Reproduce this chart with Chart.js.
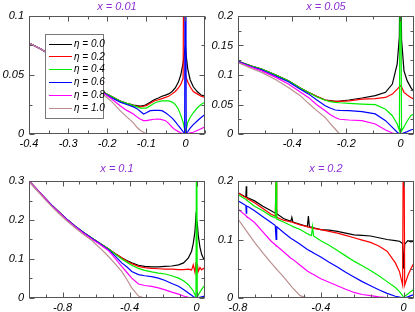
<!DOCTYPE html>
<html>
<head>
<meta charset="utf-8">
<script src="https://cdn.jsdelivr.net/npm/chart.js@4"></script>
<style>
  body { margin: 0; background: #fff; }
  #wrap { position: relative; width: 415px; height: 312px; }
  canvas { position: absolute; }
</style>
</head>
<body>
<div id="wrap">
  <canvas id="c1" width="207" height="156" style="left:0;top:0"></canvas>
  <canvas id="c2" width="208" height="156" style="left:207px;top:0"></canvas>
  <canvas id="c3" width="207" height="156" style="left:0;top:156px"></canvas>
  <canvas id="c4" width="208" height="156" style="left:207px;top:156px"></canvas>
</div>
<script>
// series labels
const etaLabels = ['η = 0.0', 'η = 0.2', 'η = 0.4', 'η = 0.6', 'η = 0.8', 'η = 1.0'];
const panelTitles = ['x = 0.01', 'x = 0.05', 'x = 0.1', 'x = 0.2'];

// x = 0.01
const p1X = [-0.4, -0.37, -0.34, -0.3, -0.26, -0.22, -0.19, -0.167, -0.15, -0.133, -0.124, -0.115, -0.107, -0.1, -0.09, -0.08, -0.069, -0.06, -0.051, -0.043, -0.034, -0.026, -0.018, -0.012, -0.006, -0.002, 0, 0.002, 0.006, 0.012, 0.02, 0.03, 0.04, 0.05];
const p1Eta00 = [0.077, 0.072, 0.066, 0.057, 0.047, 0.037, 0.032, 0.028, 0.026, 0.0245, 0.024, 0.0237, 0.024, 0.025, 0.027, 0.029, 0.0305, 0.032, 0.033, 0.034, 0.036, 0.039, 0.044, 0.05, 0.06, 0.07, 0.075, 0.066, 0.055, 0.046, 0.04, 0.036, 0.033, 0.032];
const p1Eta02 = [0.077, 0.072, 0.066, 0.057, 0.047, 0.037, 0.032, 0.028, 0.026, 0.0243, 0.0235, 0.023, 0.0235, 0.024, 0.026, 0.028, 0.029, 0.03, 0.031, 0.032, 0.034, 0.036, 0.039, 0.042, 0.047, 0.3, 0.05, 0.048, 0.044, 0.04, 0.036, 0.034, 0.032, 0.031];
const p1Eta04 = [0.077, 0.072, 0.066, 0.057, 0.047, 0.037, 0.032, 0.028, 0.026, 0.024, 0.023, 0.022, 0.022, 0.022, 0.024, 0.026, 0.0275, 0.028, 0.028, 0.028, 0.027, 0.025, 0.021, 0.016, 0.01, 0.004, 0, 0.004, 0.01, 0.014, 0.018, 0.022, 0.025, 0.027];
const p1Eta06 = [0.077, 0.072, 0.066, 0.057, 0.047, 0.037, 0.031, 0.027, 0.025, 0.023, 0.0215, 0.019, 0.017, 0.018, 0.0198, 0.02, 0.02, 0.0198, 0.018, 0.016, 0.0135, 0.0105, 0.007, 0.0045, 0.002, 0.0005, 0.3, 0.0005, 0.002, 0.005, 0.008, 0.011, 0.014, 0.0165];
const p1Eta08 = [0.077, 0.072, 0.066, 0.057, 0.047, 0.037, 0.03, 0.024, 0.02, 0.017, 0.0145, 0.0125, 0.0113, 0.0113, 0.012, 0.0125, 0.0127, 0.0122, 0.0113, 0.009, 0.0057, 0.0035, 0.002, 0.001, 0.0003, 0, 0, 0, 0.0003, 0.001, 0.0015, 0.003, 0.0045, 0.006];
const p1Eta10 = [0.077, 0.072, 0.066, 0.057, 0.047, 0.036, 0.028, 0.0198, 0.0145, 0.0095, 0.0057, 0.003, 0.0015, 0, 0, 0, 0, 0, 0, 0, 0, 0, 0, 0, 0, 0, 0, 0, 0, 0, 0, 0, 0, 0];

// x = 0.05
const p2X = [-0.6, -0.55, -0.513, -0.46, -0.414, -0.37, -0.34, -0.31, -0.278, -0.26, -0.241, -0.225, -0.19, -0.142, -0.093, -0.055, -0.03, -0.012, -0.004, 0, 0.004, 0.013, 0.025, 0.038, 0.05];
const p2Eta00 = [0.123, 0.115, 0.11, 0.1, 0.09, 0.078, 0.0706, 0.064, 0.0576, 0.0565, 0.0555, 0.0557, 0.0576, 0.061, 0.065, 0.0706, 0.0847, 0.119, 0.165, 0.4, 0.16, 0.107, 0.09, 0.079, 0.071];
const p2Eta02 = [0.123, 0.115, 0.11, 0.1, 0.09, 0.078, 0.0706, 0.064, 0.0576, 0.0562, 0.0553, 0.0553, 0.056, 0.059, 0.06, 0.062, 0.0677, 0.076, 0.08, 0.082, 0.08, 0.0706, 0.066, 0.062, 0.059];
const p2Eta04 = [0.123, 0.115, 0.11, 0.1, 0.09, 0.078, 0.0706, 0.063, 0.0572, 0.055, 0.0537, 0.053, 0.052, 0.0508, 0.0497, 0.042, 0.031, 0.017, 0.006, 0.4, 0.005, 0.012, 0.022, 0.031, 0.034];
const p2Eta06 = [0.123, 0.114, 0.109, 0.098, 0.0887, 0.076, 0.068, 0.058, 0.048, 0.044, 0.0407, 0.04, 0.0395, 0.038, 0.034, 0.0226, 0.0113, 0.003, 0.0005, 0, 0.0005, 0.002, 0.004, 0.0068, 0.0085];
const p2Eta08 = [0.122, 0.113, 0.107, 0.096, 0.0847, 0.071, 0.062, 0.05, 0.0395, 0.033, 0.028, 0.025, 0.0237, 0.0226, 0.017, 0.0068, 0.0017, 0, 0, 0, 0, 0, 0, 0, 0];
const p2Eta10 = [0.121, 0.111, 0.1045, 0.092, 0.079, 0.065, 0.052, 0.04, 0.028, 0.018, 0.0085, 0, 0, 0, 0, 0, 0, 0, 0, 0, 0, 0, 0, 0, 0];

// x = 0.1
const p3X = [-1.0, -0.95, -0.905, -0.865, -0.825, -0.775, -0.725, -0.675, -0.626, -0.576, -0.527, -0.487, -0.447, -0.417, -0.387, -0.347, -0.31, -0.268, -0.228, -0.188, -0.148, -0.108, -0.078, -0.049, -0.03, -0.02, -0.01, -0.004, 0, 0.004, 0.01, 0.02, 0.03, 0.04, 0.05];
const p3Eta00 = [0.3, 0.277, 0.256, 0.238, 0.222, 0.202, 0.184, 0.168, 0.154, 0.14, 0.126, 0.114, 0.103, 0.096, 0.09, 0.084, 0.081, 0.08, 0.08, 0.081, 0.082, 0.085, 0.09, 0.103, 0.12, 0.14, 0.17, 0.21, 0.2, 0.19, 0.16, 0.13, 0.112, 0.102, 0.096];
const p3Eta02 = [0.3, 0.277, 0.256, 0.238, 0.222, 0.202, 0.184, 0.168, 0.154, 0.14, 0.126, 0.114, 0.103, 0.095, 0.088, 0.081, 0.078, 0.076, 0.075, 0.074, 0.074, 0.073, 0.073, 0.074, 0.072, 0.085, 0.066, 0.092, 0.062, 0.088, 0.068, 0.078, 0.072, 0.076, 0.073];
const p3Eta04 = [0.3, 0.277, 0.256, 0.238, 0.222, 0.202, 0.184, 0.168, 0.154, 0.14, 0.126, 0.113, 0.1, 0.092, 0.084, 0.076, 0.071, 0.067, 0.064, 0.0615, 0.057, 0.051, 0.044, 0.034, 0.024, 0.018, 0.009, 0.003, 0.5, 0.003, 0.008, 0.015, 0.022, 0.028, 0.033];
const p3Eta06 = [0.3, 0.277, 0.256, 0.238, 0.222, 0.202, 0.184, 0.168, 0.153, 0.139, 0.124, 0.108, 0.09, 0.08, 0.068, 0.06, 0.057, 0.055, 0.051, 0.045, 0.037, 0.03, 0.022, 0.0128, 0.007, 0.004, 0.0015, 0.0003, 0, 0.0003, 0.001, 0.002, 0.003, 0.004, 0.005];
const p3Eta08 = [0.3, 0.277, 0.256, 0.237, 0.221, 0.201, 0.183, 0.166, 0.151, 0.137, 0.122, 0.102, 0.081, 0.066, 0.051, 0.036, 0.032, 0.03, 0.026, 0.021, 0.015, 0.01, 0.005, 0.002, 0.0005, 0, 0, 0, 0, 0, 0, 0, 0, 0, 0];
const p3Eta10 = [0.298, 0.275, 0.253, 0.235, 0.218, 0.198, 0.18, 0.163, 0.148, 0.128, 0.107, 0.088, 0.068, 0.048, 0.026, 0.005, 0, 0, 0, 0, 0, 0, 0, 0, 0, 0, 0, 0, 0, 0, 0, 0, 0, 0, 0];

// x = 0.2
const p4X = [-0.8, -0.77, -0.762, -0.76, -0.758, -0.75, -0.72, -0.68, -0.64, -0.62, -0.618, -0.616, -0.614, -0.612, -0.58, -0.545, -0.54, -0.535, -0.5, -0.465, -0.46, -0.455, -0.445, -0.44, -0.435, -0.4,
  -0.36, -0.32, -0.28, -0.24, -0.2, -0.16, -0.12, -0.08, -0.04, -0.02, -0.005, 0, 0.005, 0.02, 0.035, 0.05];
const p4Eta00 = [0.18, 0.174, 0.173, 0.191, 0.172, 0.171, 0.166, 0.157, 0.149, 0.145, 0.145, 0.15, 0.145, 0.144, 0.136, 0.131, 0.138, 0.13, 0.126, 0.122, 0.14, 0.121, 0.121, 0.121, 0.12, 0.117,
  0.116, 0.114, 0.111, 0.108, 0.107, 0.106, 0.103, 0.1, 0.098, 0.097, 0.093, 0.05, 0.092, 0.098, 0.096, 0.097];
const p4Eta02 = [0.18, 0.173, 0.172, 0.172, 0.171, 0.169, 0.163, 0.153, 0.143, 0.14, 0.14, 0.21, 0.139, 0.138, 0.133, 0.13, 0.13, 0.129, 0.125, 0.122, 0.121, 0.121, 0.12, 0.119, 0.119, 0.117,
  0.114, 0.111, 0.107, 0.103, 0.099, 0.095, 0.089, 0.08, 0.06, 0.045, 0.022, 0.4, 0.022, 0.038, 0.05, 0.06];
const p4Eta04 = [0.177, 0.17, 0.169, 0.168, 0.168, 0.165, 0.157, 0.149, 0.14, 0.137, 0.137, 0.21, 0.136, 0.135, 0.13, 0.124, 0.123, 0.122, 0.117, 0.11, 0.109, 0.108, 0.107, 0.122, 0.106, 0.098,
  0.09, 0.081, 0.072, 0.063, 0.055, 0.047, 0.038, 0.028, 0.018, 0.011, 0.004, 0, 0.003, 0.007, 0.011, 0.015];
const p4Eta06 = [0.166, 0.16, 0.158, 0.145, 0.157, 0.156, 0.149, 0.139, 0.129, 0.124, 0.124, 0.1, 0.123, 0.122, 0.112, 0.102, 0.101, 0.1, 0.092, 0.083, 0.082, 0.081, 0.079, 0.078, 0.077, 0.07,
  0.061, 0.053, 0.044, 0.036, 0.028, 0.021, 0.014, 0.008, 0.003, 0.0015, 0.0003, 0, 0.0005, 0.002, 0.004, 0.006];
const p4Eta08 = [0.152, 0.143, 0.141, 0.14, 0.139, 0.137, 0.129, 0.113, 0.097, 0.091, 0.09, 0.09, 0.089, 0.089, 0.079, 0.068, 0.067, 0.066, 0.056, 0.046, 0.045, 0.044, 0.042, 0.041, 0.04, 0.033,
  0.027, 0.021, 0.015, 0.0095, 0.006, 0.004, 0.002, 0.0005, 0, 0, 0, 0, 0, 0, 0, 0];
const p4Eta10 = [0.135, 0.12, 0.116, 0.115, 0.114, 0.11, 0.095, 0.077, 0.06, 0.052, 0.051, 0.05, 0.05, 0.049, 0.036, 0.021, 0.019, 0.017, 0.004, 0, 0, 0, 0, 0, 0, 0,
  0, 0, 0, 0, 0, 0, 0, 0, 0, 0, 0, 0, 0, 0, 0, 0];

// tick labels
const p1XTicks = [-0.4, -0.3, -0.2, -0.1, 0];
const p1YTicks = [0, 0.05, 0.1];
const p2XTicks = [-0.4, -0.2, 0];
const p2YTicks = [0, 0.05, 0.1, 0.15, 0.2];
const p3XTicks = [-0.8, -0.4, 0];
const p3YTicks = [0, 0.1, 0.2, 0.3];
const p4XTicks = [-0.8, -0.4, 0];
const p4YTicks = [0, 0.1, 0.2];

const colors = ['#000000', '#ff0000', '#00ee00', '#0000ff', '#ff00ff', '#bc8f8f'];
const tickFont = { family: "'Liberation Sans', Arial, sans-serif", size: 11, style: 'italic' };

function fmt(v) {
  return String(+Number(v).toFixed(3));
}

// frame with inward ticks on all sides, title and (optional) legend
const framePlugin = {
  id: 'frame',
  afterDatasetsDraw(chart, args, o) {
    const ctx = chart.ctx;
    const a = chart.chartArea;
    const xs = chart.scales.x, ys = chart.scales.y;
    const L = Math.round(a.left) + 0.5, R = Math.round(a.right) - 0.5;
    const T = Math.round(a.top) + 0.5, B = Math.round(a.bottom) - 0.5;
    ctx.save();
    ctx.strokeStyle = '#555';
    ctx.lineWidth = 1;
    ctx.strokeRect(L, T, R - L, B - T);

    const steps = (min, max, step) => {
      const out = [];
      const n0 = Math.ceil(min / step - 1e-6), n1 = Math.floor(max / step + 1e-6);
      for (let k = n0; k <= n1; k++) out.push(k * step);
      return out;
    };
    const isMajor = (v, step) => Math.abs(v / step - Math.round(v / step)) < 1e-6;

    ctx.beginPath();
    steps(xs.min, xs.max, o.xMinor).forEach(v => {
      const len = isMajor(v, o.xMajor) ? 5 : 3;
      const px = Math.round(xs.getPixelForValue(v)) + 0.5;
      ctx.moveTo(px, B); ctx.lineTo(px, B - len);
      ctx.moveTo(px, T); ctx.lineTo(px, T + len);
    });
    steps(ys.min, ys.max, o.yMinor).forEach(v => {
      const len = isMajor(v, o.yMajor) ? 5 : 3;
      const py = Math.round(ys.getPixelForValue(v)) + 0.5;
      ctx.moveTo(L, py); ctx.lineTo(L + len, py);
      ctx.moveTo(R, py); ctx.lineTo(R - len, py);
    });
    ctx.stroke();

    // title
    ctx.fillStyle = '#8c2fd4';
    ctx.font = "italic 11px 'Liberation Sans', Arial, sans-serif";
    ctx.textAlign = 'center';
    ctx.textBaseline = 'middle';
    ctx.fillText(o.title, (a.left + a.right) / 2, o.titleY);

    // legend
    if (o.legend) {
      const lg = o.legend;
      ctx.fillStyle = '#fff';
      ctx.fillRect(lg.x, lg.y, lg.w, lg.h);
      ctx.strokeStyle = '#777';
      ctx.strokeRect(lg.x + 0.5, lg.y + 0.5, lg.w, lg.h);
      ctx.font = "italic 10px 'Liberation Sans', Arial, sans-serif";
      ctx.textAlign = 'left';
      chart.data.datasets.forEach((ds, i) => {
        const y = lg.y + 9.5 + i * 12.8;
        ctx.strokeStyle = ds.borderColor;
        ctx.lineWidth = 1;
        ctx.beginPath();
        ctx.moveTo(lg.x + 4, Math.round(y) + 0.5);
        ctx.lineTo(lg.x + 27, Math.round(y) + 0.5);
        ctx.stroke();
        ctx.fillStyle = '#000';
        ctx.fillText(ds.label, lg.x + 29, y + 0.5);
      });
    }
    ctx.restore();
  }
};

function makePanel(id, xs, series, cfg) {
  const n = series.length;
  const datasets = series.map((ys, i) => ({
    label: etaLabels[i],
    data: xs.map((x, k) => ({ x: x, y: ys[k] })),
    borderColor: colors[i],
    borderWidth: 1.2,
    pointRadius: 0,
    tension: 0,
    fill: false,
    order: n - 1 - i
  }));

  new Chart(document.getElementById(id), {
    type: 'line',
    data: { datasets: datasets },
    options: {
      responsive: false,
      animation: false,
      events: [],
      layout: { padding: { top: cfg.padTop, right: cfg.padRight, left: 0, bottom: 0 } },
      plugins: {
        legend: { display: false },
        tooltip: { enabled: false },
        frame: {
          title: cfg.title, titleY: cfg.titleY, legend: cfg.legend,
          xMajor: cfg.xMajor, xMinor: cfg.xMinor, yMajor: cfg.yMajor, yMinor: cfg.yMinor
        }
      },
      scales: {
        x: {
          type: 'linear',
          min: cfg.xMin, max: cfg.xMax,
          grid: { display: false, drawTicks: false },
          border: { display: false },
          afterFit: s => { s.height = cfg.xAxisH; },
          afterBuildTicks: s => { s.ticks = cfg.xTicks.map(v => ({ value: v })); },
          ticks: { font: tickFont, color: '#000', padding: 3, maxRotation: 0, autoSkip: false, callback: v => fmt(v) }
        },
        y: {
          type: 'linear',
          min: cfg.yMin, max: cfg.yMax,
          grid: { display: false, drawTicks: false },
          border: { display: false },
          afterFit: s => { s.width = cfg.yAxisW; },
          afterBuildTicks: s => { s.ticks = cfg.yTicks.map(v => ({ value: v })); },
          ticks: { font: tickFont, color: '#000', padding: 5, autoSkip: false, callback: v => fmt(v) }
        }
      }
    },
    plugins: [framePlugin]
  });
}

window.addEventListener('DOMContentLoaded', () => {
  makePanel('c1', p1X, [p1Eta00, p1Eta02, p1Eta04, p1Eta06, p1Eta08, p1Eta10], {
    title: panelTitles[0], titleY: 7,
    xMin: -0.4, xMax: 0.05, yMin: 0, yMax: 0.1,
    xTicks: p1XTicks, yTicks: p1YTicks,
    xMajor: 0.1, xMinor: 0.05, yMajor: 0.05, yMinor: 0.025,
    padTop: 16, padRight: 2, xAxisH: 22, yAxisW: 29,
    legend: { x: 45, y: 34, w: 58, h: 84 }
  });
  makePanel('c2', p2X, [p2Eta00, p2Eta02, p2Eta04, p2Eta06, p2Eta08, p2Eta10], {
    title: panelTitles[1], titleY: 7,
    xMin: -0.6, xMax: 0.05, yMin: 0, yMax: 0.2,
    xTicks: p2XTicks, yTicks: p2YTicks,
    xMajor: 0.2, xMinor: 0.1, yMajor: 0.05, yMinor: 0.025,
    padTop: 16, padRight: 1, xAxisH: 22, yAxisW: 31
  });
  makePanel('c3', p3X, [p3Eta00, p3Eta02, p3Eta04, p3Eta06, p3Eta08, p3Eta10], {
    title: panelTitles[2], titleY: 13,
    xMin: -1.0, xMax: 0.05, yMin: 0, yMax: 0.3,
    xTicks: p3XTicks, yTicks: p3YTicks,
    xMajor: 0.4, xMinor: 0.1, yMajor: 0.1, yMinor: 0.05,
    padTop: 25, padRight: 2, xAxisH: 14, yAxisW: 29
  });
  makePanel('c4', p4X, [p4Eta00, p4Eta02, p4Eta04, p4Eta06, p4Eta08, p4Eta10], {
    title: panelTitles[3], titleY: 13,
    xMin: -0.8, xMax: 0.05, yMin: 0, yMax: 0.2,
    xTicks: p4XTicks, yTicks: p4YTicks,
    xMajor: 0.4, xMinor: 0.08, yMajor: 0.1, yMinor: 0.05,
    padTop: 25, padRight: 1, xAxisH: 14, yAxisW: 31
  });
});
</script>
</body>
</html>
